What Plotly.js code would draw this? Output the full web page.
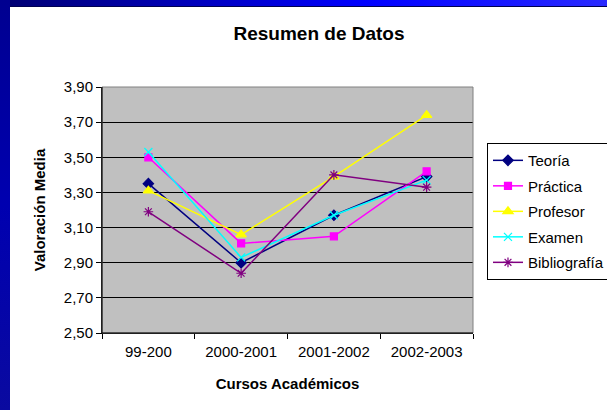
<!DOCTYPE html>
<html><head><meta charset="utf-8">
<script src="https://cdn.plot.ly/plotly-3.0.1.min.js"></script>
<style>
html,body{margin:0;padding:0;width:607px;height:410px;overflow:hidden;}
body{background:linear-gradient(90deg,#000070 0%,#0000b8 30%,#0000ff 60%,#1a1aff 85%,#2a2aff 100%);position:relative;}
#leftstrip{position:absolute;left:0;top:0;width:10px;height:410px;background:linear-gradient(180deg,#000090,#0000b0 50%,#0a0aa0);}
#topline{position:absolute;left:10px;top:6px;width:597px;height:1px;background:#000050;}
#chart{position:absolute;left:10px;top:7px;width:660px;height:403px;background:#fff;}
</style></head>
<body><div id="leftstrip"></div><div id="topline"></div><div id="chart"></div>
<script>
const categories = ["99-200","2000-2001","2001-2002","2002-2003"];
const teoria = [3.35, 2.90, 3.17, 3.39];
const practica = [3.50, 3.01, 3.05, 3.42];
const profesor = [3.31, 3.06, 3.39, 3.74];
const examen = [3.53, 2.93, 3.17, 3.37];
const bibliografia = [3.19, 2.84, 3.40, 3.33];
const yTicks = [2.5, 2.7, 2.9, 3.1, 3.3, 3.5, 3.7, 3.9];

const font = "Liberation Sans, Arial, sans-serif";
function tr(name, y, color, symbol, size, group){
  return {
    type:'scatter', mode:'lines+markers', name:name, x:categories, y:y,
    legendgroup:group,
    line:{color:color, width:1.5},
    marker:{color:color, symbol:symbol, size:size, line:{color:color, width:1.2}}
  };
}
const data = [
  tr('Teoría', teoria, '#000080', 'diamond', 8, 'a'),
  tr('Práctica', practica, '#FF00FF', 'square', 7, 'b'),
  tr('Profesor', profesor, '#FFFF00', 'triangle-up', 9, 'c'),
  tr('Examen', examen, '#00FFFF', 'x-thin', 8, 'd'),
  tr('Bibliografía', bibliografia, '#800080', 'asterisk', 8, 'e')
];
const layout = {
  width:660, height:403,
  margin:{l:92, r:197, t:80, b:77, pad:0},
  paper_bgcolor:'#ffffff', plot_bgcolor:'#C0C0C0',
  separators:',.',
  font:{family:font, size:15, color:'#000'},
  title:{text:'<b>Resumen de Datos</b>', font:{size:19, family:font, color:'#000'}, x:309/660, xanchor:'center', y:0.935, yanchor:'middle'},
  xaxis:{
    type:'category', range:[-0.5,3.5], tickson:'boundaries', ticks:'outside', ticklen:5,
    tickcolor:'#000', showline:true, linecolor:'#000', linewidth:1, showgrid:false,
    tickfont:{size:15}, fixedrange:true, ticklabelstandoff:5,
    title:{text:'<b>Cursos Académicos</b>', font:{size:15}, standoff:19}
  },
  yaxis:{
    range:[2.5,3.9], tickvals:yTicks, tickformat:'.2f', ticks:'outside', ticklen:5,
    tickcolor:'#000', showline:true, linecolor:'#000', linewidth:1,
    showgrid:true, gridcolor:'#000', gridwidth:1, zeroline:false,
    tickfont:{size:15}, fixedrange:true,
    title:{text:'<b>Valoración Media</b>', font:{size:15}, standoff:14}
  },
  showlegend:true,
  legend:{x:1.0377, xanchor:'left', y:0.772, yanchor:'top', bgcolor:'#fff', bordercolor:'#000', borderwidth:1,
    font:{size:15}, tracegroupgap:3, itemwidth:30},
  shapes:[
    {type:'rect', xref:'paper', yref:'paper', x0:0, x1:1, y0:0, y1:1, line:{color:'#808080', width:1}, layer:'above'},
    {type:'line', xref:'paper', yref:'paper', x0:0, x1:0, y0:0, y1:1, line:{color:'#000', width:1}, layer:'above'},
    {type:'line', xref:'paper', yref:'paper', x0:0, x1:1, y0:0, y1:0, line:{color:'#000', width:1}, layer:'above'}
  ]
};
Plotly.newPlot('chart', data, layout, {displayModeBar:false, staticPlot:true});
</script></body></html>
